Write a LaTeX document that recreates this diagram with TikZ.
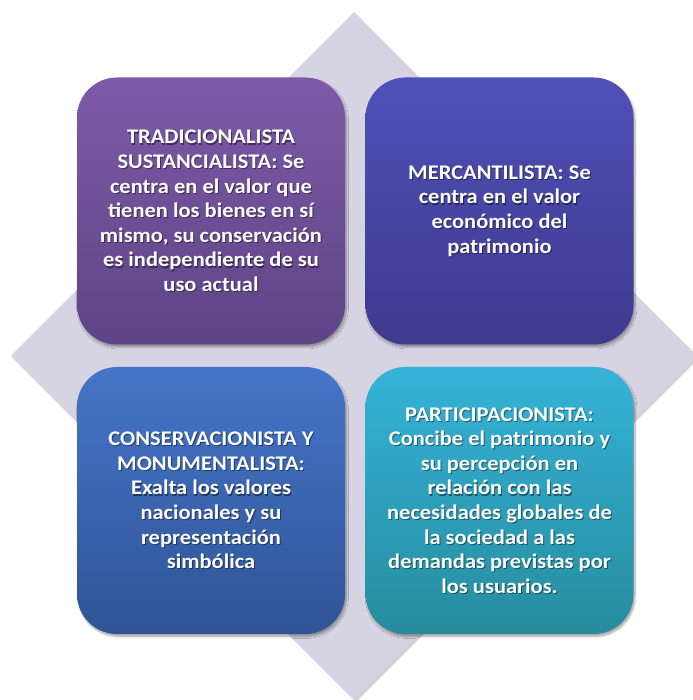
\documentclass[tikz,border=0pt]{standalone}
\usepackage{fontspec}
\setmainfont{Carlito}[FakeStretch=1.08]
\usetikzlibrary{shadows,shadows.blur}
\definecolor{diam}{HTML}{D6D3E3}
\definecolor{tlA}{HTML}{7D5AA8}\definecolor{tlB}{HTML}{5E4486}
\definecolor{trA}{HTML}{5050B8}\definecolor{trB}{HTML}{3E3A8E}
\definecolor{blA}{HTML}{4575C8}\definecolor{blB}{HTML}{2F5496}
\definecolor{brA}{HTML}{35B3D8}\definecolor{brB}{HTML}{268C9E}
\tikzset{
  card/.style={rectangle, rounded corners=40pt, minimum width=268pt, minimum height=267pt,
    inner sep=0pt, blur shadow={shadow xshift=1.5pt, shadow yshift=-2.5pt, shadow blur steps=6, shadow opacity=35}},
  txt/.style={text=white, align=center, font=\fontsize{20.8}{24.6}\selectfont\bfseries},
  txtsh/.style={txt, text=black, opacity=0.45}
}
\newcommand{\cardtext}[3]{%
  \node[txtsh] (#1sh) at ([xshift=1pt,yshift=-1.2pt]#2) {#3};
  \node[txt] (#1t) at (#2) {#3};}
\begin{document}
\begin{tikzpicture}[x=1pt,y=1pt]
\useasboundingbox (0,0) rectangle (692,700);
\fill[black, opacity=0.18] (356,686) -- (699,342) -- (356,-2) -- (13,342) -- cycle;
\fill[diam] (354,688) -- (697,344) -- (354,0) -- (11,344) -- cycle;
\node[card, top color=tlA, bottom color=tlB] (tl) at (211,489) {};
\node[card, top color=trA, bottom color=trB] (tr) at (499.5,489) {};
\node[card, top color=blA, bottom color=blB] (bl) at (211,199.5) {};
\node[card, top color=brA, bottom color=brB] (br) at (499.5,199.5) {};
\cardtext{a}{tl}{TRADICIONALISTA\\SUSTANCIALISTA: Se\\centra en el valor que\\tienen los bienes en sí\\mismo, su conservación\\es independiente de su\\uso actual}
\cardtext{b}{tr}{MERCANTILISTA: Se\\centra en el valor\\económico del\\patrimonio}
\cardtext{c}{bl}{CONSERVACIONISTA Y\\MONUMENTALISTA:\\Exalta los valores\\nacionales y su\\representación\\simbólica}
\cardtext{d}{br}{PARTICIPACIONISTA:\\Concibe el patrimonio y\\su percepción en\\relación con las\\necesidades globales de\\la sociedad a las\\demandas previstas por\\los usuarios.}
\end{tikzpicture}
\end{document}
